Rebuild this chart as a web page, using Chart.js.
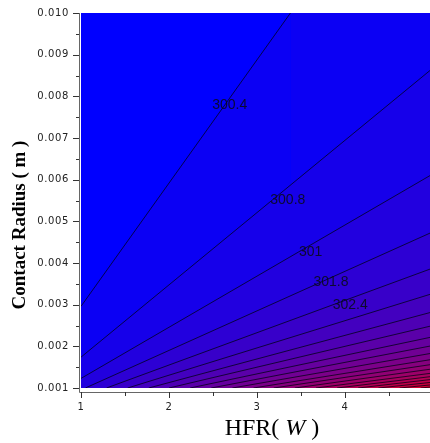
<!DOCTYPE html>
<html>
<head>
<meta charset="utf-8">
<script src="https://cdn.jsdelivr.net/npm/chart.js@4.4.1/dist/chart.umd.min.js"></script>
<style>
html, body { margin: 0; padding: 0; background: #fff; overflow: hidden; }
#wrap { width: 445px; height: 443px; }
</style>
</head>
<body>
<div id="wrap"><canvas id="contour" width="445" height="443"></canvas></div>
<script>
// axis ticks
var hfrTicks = [1, 2, 3, 4, 5];
var radiusTicks = [0.001, 0.002, 0.003, 0.004, 0.005, 0.006, 0.007, 0.008, 0.009, 0.010];

// contour lines, read where each one enters and leaves the plot
var lineStartHfr = [1, 1, 1, 1.05, 1.29, 1.53, 1.77, 2.00, 2.24, 2.48, 2.72, 2.96, 3.19, 3.43, 3.67, 3.91, 4.15, 4.38, 4.62, 4.86];
var lineStartRadius = [0.00296, 0.00174, 0.00123, 0.001, 0.001, 0.001, 0.001, 0.001, 0.001, 0.001, 0.001, 0.001, 0.001, 0.001, 0.001, 0.001, 0.001, 0.001, 0.001, 0.001];
var lineEndHfr = [3.38, 5, 5, 5, 5, 5, 5, 5, 5, 5, 5, 5, 5, 5, 5, 5, 5, 5, 5, 5];
var lineEndRadius = [0.010, 0.00868, 0.00614, 0.00475, 0.00388, 0.00327, 0.00283, 0.00250, 0.00223, 0.00202, 0.00184, 0.00169, 0.00157, 0.00146, 0.00136, 0.00128, 0.00121, 0.00114, 0.00108, 0.00103];

// contour labels
var contourLabels = ['300.4', '300.8', '301', '301.8', '302.4'];
var labelHfr = [2.69, 3.35, 3.61, 3.84, 4.06];
var labelRadius = [0.0078, 0.0055, 0.00425, 0.00355, 0.0030];

var xMin = 1, xMax = 5, yMin = 0.001, yMax = 0.010;
var lineColor = 'rgba(0,0,20,0.75)';

function bandColor(k, n) {
    var t = (k + 1) / (n + 1);
    var r = Math.round(235 * t), b = Math.round(255 - 225 * t);
    return 'rgb(' + r + ',0,' + b + ')';
}

var datasets = [];
for (var k = 0; k < lineStartHfr.length; k++) {
    var pts = [
        { x: lineStartHfr[k], y: lineStartRadius[k] },
        { x: lineEndHfr[k], y: lineEndRadius[k] }
    ];
    // line leaves through the top: close the band along the top edge
    if (lineEndHfr[k] < xMax) pts.push({ x: xMax, y: yMax });
    datasets.push({
        data: pts,
        borderColor: lineColor,
        borderWidth: 1,
        backgroundColor: bandColor(k, lineStartHfr.length),
        fill: 'start',
        pointRadius: 0,
        order: 100 - k,
        segment: {
            borderColor: function (ctx) { return ctx.p1DataIndex >= 2 ? 'rgba(0,0,0,0)' : lineColor; }
        }
    });
}

function noPadding(scale) {
    scale.paddingLeft = 0; scale.paddingRight = 0;
    scale.paddingTop = 0; scale.paddingBottom = 0;
}

var decor = {
    id: 'decor',
    beforeLayout: function (chart) { chart.ctx.letterSpacing = '0.6px'; },
    beforeDraw: function (chart) {
        var a = chart.chartArea, ctx = chart.ctx;
        ctx.letterSpacing = '0.6px';
        ctx.save();
        ctx.fillStyle = '#0000ff';
        ctx.fillRect(a.left, a.top, a.right - a.left, a.bottom - a.top);
        ctx.restore();
    },
    afterDatasetsDraw: function (chart) {
        var ctx = chart.ctx, sx = chart.scales.x, sy = chart.scales.y;
        ctx.save();
        ctx.letterSpacing = '0px';
        ctx.font = '14px "Liberation Sans", Arial, sans-serif';
        ctx.fillStyle = 'rgba(10,10,30,0.9)';
        ctx.textAlign = 'center';
        ctx.textBaseline = 'middle';
        for (var i = 0; i < contourLabels.length; i++) {
            ctx.fillText(contourLabels[i], sx.getPixelForValue(labelHfr[i]), sy.getPixelForValue(labelRadius[i]));
        }
        ctx.restore();
    },
    afterDraw: function (chart) {
        var ctx = chart.ctx, a = chart.chartArea, sx = chart.scales.x, sy = chart.scales.y;
        var axX = a.left - 2, axY = a.bottom + 4;
        ctx.save();
        ctx.letterSpacing = '0px';
        ctx.strokeStyle = '#666';
        ctx.lineWidth = 1;
        ctx.beginPath();
        ctx.moveTo(axX + 0.5, a.top);
        ctx.lineTo(axX + 0.5, axY + 0.5);
        ctx.lineTo(a.right + 10, axY + 0.5);
        ctx.stroke();

        ctx.strokeStyle = '#333';
        ctx.beginPath();
        radiusTicks.forEach(function (v, i) {
            var py = Math.round(sy.getPixelForValue(v)) + 0.5;
            ctx.moveTo(axX - 6, py); ctx.lineTo(axX, py);
            if (i < radiusTicks.length - 1) {
                var pm = Math.round(sy.getPixelForValue((v + radiusTicks[i + 1]) / 2)) + 0.5;
                ctx.moveTo(axX - 3, pm); ctx.lineTo(axX, pm);
            }
        });
        hfrTicks.forEach(function (v, i) {
            var px = Math.round(sx.getPixelForValue(v)) + 0.5;
            ctx.moveTo(px, axY); ctx.lineTo(px, axY + 6);
            if (i < hfrTicks.length - 1) {
                var pm = Math.round(sx.getPixelForValue((v + hfrTicks[i + 1]) / 2)) + 0.5;
                ctx.moveTo(pm, axY); ctx.lineTo(pm, axY + 4);
            }
        });
        ctx.stroke();

        // x title: HFR( W ) with italic W
        ctx.fillStyle = '#000';
        ctx.textBaseline = 'alphabetic';
        ctx.textAlign = 'left';
        var reg = '24px "Liberation Serif", "Times New Roman", serif';
        var ita = 'italic 24px "Liberation Serif", "Times New Roman", serif';
        var p1 = 'HFR( ', p2 = 'W', p3 = ' )';
        ctx.font = reg; var w1 = ctx.measureText(p1).width, w3 = ctx.measureText(p3).width;
        ctx.font = ita; var w2 = ctx.measureText(p2).width;
        var x0 = 272 - (w1 + w2 + w3) / 2, by = 435;
        ctx.font = reg; ctx.fillText(p1, x0, by);
        ctx.font = ita; ctx.fillText(p2, x0 + w1, by);
        ctx.font = reg; ctx.fillText(p3, x0 + w1 + w2, by);

        // y title
        ctx.translate(20, 225);
        ctx.rotate(-Math.PI / 2);
        ctx.textAlign = 'center';
        ctx.textBaseline = 'middle';
        ctx.font = 'bold 19px "Liberation Serif", "Times New Roman", serif';
        ctx.fillText('Contact Radius ( m )', 0, 0);
        ctx.restore();
    }
};

new Chart(document.getElementById('contour'), {
    type: 'line',
    data: { datasets: datasets },
    plugins: [decor],
    options: {
        responsive: false,
        animation: false,
        devicePixelRatio: 1,
        layout: { padding: { top: 13, right: 12, left: 0, bottom: 0 } },
        plugins: { legend: { display: false }, tooltip: { enabled: false } },
        scales: {
            x: {
                type: 'linear', min: xMin, max: xMax,
                grid: { display: false, drawTicks: false },
                border: { display: false },
                afterBuildTicks: function (scale) { scale.ticks = hfrTicks.map(function (v) { return { value: v }; }); },
                afterFit: function (scale) { scale.height = 55; noPadding(scale); },
                ticks: {
                    padding: 13, maxRotation: 0, color: '#222',
                    font: { family: '"DejaVu Sans", sans-serif', size: 10 },
                    callback: function (v) { return String(v); }
                }
            },
            y: {
                type: 'linear', min: yMin, max: yMax,
                grid: { display: false, drawTicks: false },
                border: { display: false },
                afterBuildTicks: function (scale) { scale.ticks = radiusTicks.map(function (v) { return { value: v }; }); },
                afterFit: function (scale) { scale.width = 81; noPadding(scale); },
                ticks: {
                    padding: 12, color: '#222',
                    font: { family: '"DejaVu Sans", sans-serif', size: 10 },
                    callback: function (v) { return Number(v).toFixed(3); }
                }
            }
        }
    }
});
</script>
</body>
</html>
